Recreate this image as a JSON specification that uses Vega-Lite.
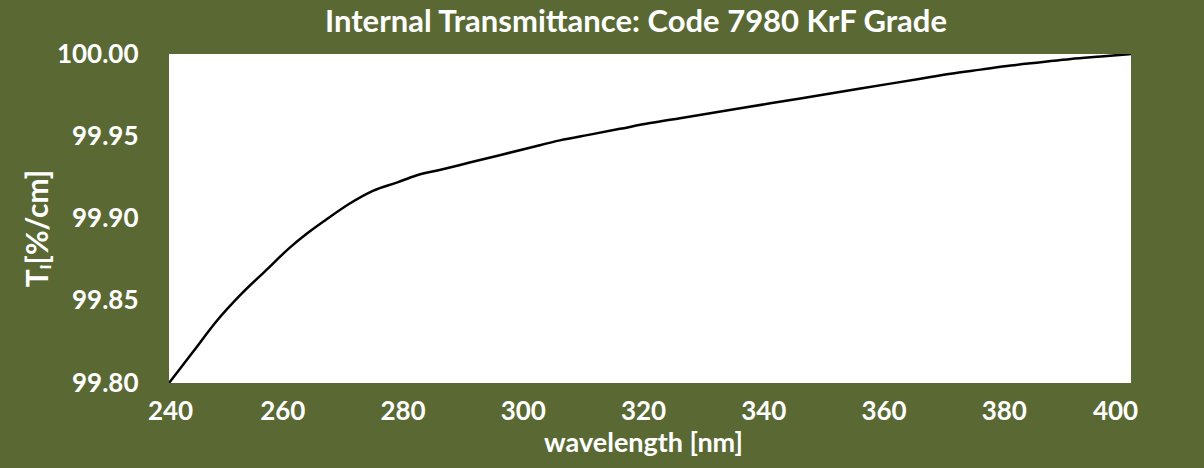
{
  "$schema": "https://vega.github.io/schema/vega-lite/v6.json",
  "width": 962,
  "height": 329,
  "autosize": "none",
  "padding": {"left": 169, "top": 54, "right": 73, "bottom": 85},
  "background": "#5a6934",
  "title": {
    "text": "Internal Transmittance: Code 7980 KrF Grade",
    "font": "Lato",
    "fontSize": 31,
    "fontWeight": "bold",
    "color": "white",
    "anchor": "middle",
    "frame": "group",
    "dx": -14,
    "baseline": "alphabetic",
    "offset": 16,
    "dy": 38
  },
  "data": {
    "values": [
      {"wavelength": 240, "T": 99.800},
      {"wavelength": 244, "T": 99.819},
      {"wavelength": 248, "T": 99.838},
      {"wavelength": 252, "T": 99.854},
      {"wavelength": 256, "T": 99.868},
      {"wavelength": 260, "T": 99.882},
      {"wavelength": 263, "T": 99.891},
      {"wavelength": 266, "T": 99.899},
      {"wavelength": 270, "T": 99.909},
      {"wavelength": 274, "T": 99.917},
      {"wavelength": 278, "T": 99.922},
      {"wavelength": 281, "T": 99.926},
      {"wavelength": 285, "T": 99.9295},
      {"wavelength": 290, "T": 99.934},
      {"wavelength": 295, "T": 99.9385},
      {"wavelength": 300, "T": 99.943},
      {"wavelength": 305, "T": 99.9475},
      {"wavelength": 310, "T": 99.951},
      {"wavelength": 315, "T": 99.9545},
      {"wavelength": 320, "T": 99.958},
      {"wavelength": 325, "T": 99.961},
      {"wavelength": 330, "T": 99.964},
      {"wavelength": 335, "T": 99.967},
      {"wavelength": 340, "T": 99.970},
      {"wavelength": 345, "T": 99.973},
      {"wavelength": 350, "T": 99.976},
      {"wavelength": 355, "T": 99.979},
      {"wavelength": 360, "T": 99.982},
      {"wavelength": 365, "T": 99.985},
      {"wavelength": 370, "T": 99.988},
      {"wavelength": 375, "T": 99.9905},
      {"wavelength": 380, "T": 99.993},
      {"wavelength": 385, "T": 99.995},
      {"wavelength": 390, "T": 99.997},
      {"wavelength": 395, "T": 99.9985},
      {"wavelength": 400, "T": 100.000}
    ]
  },
  "mark": {"type": "line", "color": "black", "strokeWidth": 2.5, "interpolate": "monotone", "clip": true},
  "encoding": {
    "x": {
      "field": "wavelength",
      "type": "quantitative",
      "scale": {"domain": [240, 400], "nice": false, "zero": false},
      "axis": {
        "values": [240, 260, 280, 300, 320, 340, 360, 380, 400],
        "format": "d",
        "title": "wavelength [nm]",
        "labelOffset": {"expr": "datum.value == 240 ? 1 : datum.value == 400 ? -16 : -7"}
      }
    },
    "y": {
      "field": "T",
      "type": "quantitative",
      "scale": {"domain": [99.8, 100.0], "nice": false, "zero": false},
      "axis": {
        "values": [99.8, 99.85, 99.9, 99.95, 100.0],
        "format": ".2f",
        "title": "Tᵢ[%/cm]",
        "labelPadding": 31,
        "titleAngle": -90,
        "titleAlign": "center",
        "titleBaseline": "alphabetic",
        "titleX": -122,
        "titleY": 174,
        "titleFontSize": 30
      }
    }
  },
  "config": {
    "view": {"fill": "white", "stroke": null},
    "axis": {
      "grid": false,
      "domain": false,
      "ticks": false,
      "tickSize": 0,
      "labelFont": "Lato",
      "labelFontSize": 26,
      "labelFontWeight": "bold",
      "labelColor": "white",
      "titleFont": "Lato",
      "titleFontSize": 27,
      "titleFontWeight": "bold",
      "titleColor": "white"
    },
    "axisX": {
      "labelPadding": 15,
      "labelBaseline": "top",
      "labelAlign": "center",
      "titleAlign": "center",
      "titleBaseline": "alphabetic",
      "titleX": 474,
      "titleY": 68
    }
  }
}
